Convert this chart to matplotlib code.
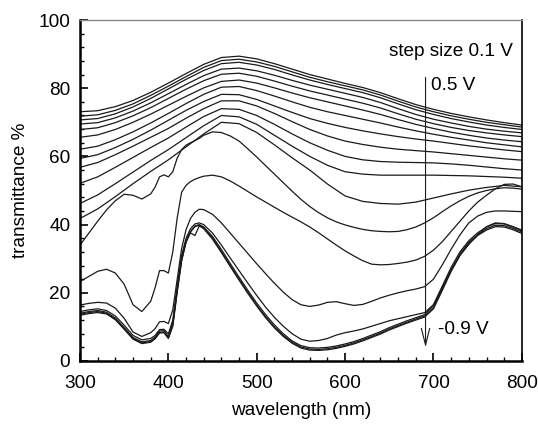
import matplotlib
matplotlib.use("Agg")
import matplotlib.pyplot as plt
from matplotlib.ticker import MultipleLocator

plt.rcParams['font.family'] = ['Liberation Sans', 'DejaVu Sans']

# ---------------- data ----------------
wl_upper = [300, 320, 340, 360, 380, 400, 420, 440, 460, 480, 500, 520, 540,
            560, 580, 600, 620, 640, 660, 680, 700, 720, 740, 760, 780, 800]

c01 = [73.1, 73.4, 74.6, 76.4, 78.8, 81.5, 84.3, 87.0, 89.0, 89.4, 88.6, 87.2, 85.6,
       84.0, 82.7, 81.4, 80.2, 78.7, 76.9, 75.2, 73.8, 72.6, 71.6, 70.7, 69.9, 69.2]
c02 = [71.8, 72.2, 73.5, 75.4, 77.9, 80.6, 83.4, 86.1, 88.1, 88.5, 87.7, 86.4, 84.8,
       83.2, 81.9, 80.7, 79.5, 78.0, 76.2, 74.5, 73.1, 71.9, 70.9, 70.0, 69.3, 68.6]
c03 = [70.7, 71.1, 72.5, 74.5, 77.0, 79.8, 82.6, 85.2, 87.2, 87.6, 86.8, 85.5, 83.9,
       82.4, 81.1, 79.9, 78.7, 77.2, 75.4, 73.7, 72.3, 71.1, 70.1, 69.2, 68.5, 67.9]
c04 = [69.5, 69.9, 71.3, 73.3, 75.7, 78.4, 81.1, 83.7, 85.6, 85.9, 85.1, 83.8, 82.3,
       80.9, 79.7, 78.5, 77.3, 75.8, 74.0, 72.3, 70.9, 69.8, 68.8, 68.0, 67.4, 66.9]
c05 = [67.9, 68.4, 69.9, 71.9, 74.3, 77.0, 79.7, 82.2, 84.1, 84.4, 83.5, 82.1, 80.6,
       79.2, 78.0, 76.8, 75.6, 74.2, 72.5, 70.9, 69.6, 68.5, 67.6, 66.9, 66.3, 65.8]
c06 = [65.6, 66.3, 67.9, 70.0, 72.4, 75.0, 77.6, 80.1, 82.0, 82.4, 81.5, 80.1, 78.6,
       77.2, 76.0, 74.8, 73.6, 72.3, 70.8, 69.4, 68.2, 67.1, 66.2, 65.4, 64.8, 64.3]
c07 = [62.1, 63.0, 64.9, 67.2, 69.8, 72.6, 75.5, 78.2, 80.3, 80.5, 79.3, 77.7, 76.0,
       74.4, 73.1, 72.0, 70.9, 69.8, 68.6, 67.5, 66.5, 65.6, 64.8, 64.0, 63.4, 62.8]
c08 = [59.4, 60.5, 62.6, 65.0, 67.7, 70.6, 73.5, 76.1, 78.2, 78.1, 76.7, 74.8, 72.9,
       71.1, 69.7, 68.5, 67.5, 66.6, 65.8, 65.1, 64.5, 63.8, 63.1, 62.5, 61.9, 61.4]
c09 = [56.8, 58.2, 60.5, 63.0, 65.6, 68.2, 71.2, 74.0, 76.3, 76.3, 74.8, 72.6, 70.2,
       67.9, 66.0, 64.5, 63.5, 62.7, 62.1, 61.7, 61.3, 60.8, 60.3, 59.8, 59.3, 58.9]
c10 = [52.1, 54.0, 56.8, 59.7, 62.6, 65.4, 68.6, 71.7, 74.0, 73.8, 72.0, 69.4, 66.6,
       64.0, 61.8, 60.0, 59.0, 58.5, 58.3, 58.2, 58.1, 57.8, 57.4, 56.9, 56.4, 56.0]
c11 = [46.2, 48.7, 52.0, 55.4, 58.8, 62.0, 65.5, 69.0, 72.0, 71.6, 69.4, 66.2, 63.0,
       60.0, 57.4, 55.5, 54.8, 54.5, 54.5, 54.5, 54.5, 54.4, 54.3, 54.1, 53.9, 53.6]
c12 = [41.8, 44.6, 48.2, 52.0, 55.6, 59.0, 62.8, 66.6, 70.0, 69.6, 67.0, 63.4, 59.6,
       56.0, 51.9, 48.4, 46.8, 46.2, 46.0, 46.6, 47.8, 49.0, 50.1, 50.9, 51.5, 51.1]

wl_lower = [300, 310, 320, 330, 340, 350, 360, 370, 380, 385, 390, 395, 400, 405,
            410, 415, 420, 425, 430, 435, 440, 450, 460, 470, 480, 490, 500, 510,
            520, 530, 540, 550, 560, 570, 580, 590, 600, 610, 620, 630, 640, 650,
            660, 670, 680, 690, 700, 710, 720, 730, 740, 750, 760, 770, 780, 790, 800]

c13 = [34.0, 37.5, 41.0, 44.3, 47.0, 48.9, 48.6, 47.5, 49.0, 51.0, 54.0, 54.6, 54.0, 55.5,
       59.5, 62.0, 63.3, 64.0, 64.6, 65.3, 66.2, 67.2, 67.0, 66.0, 64.5, 62.2, 59.8, 57.3,
       54.8, 52.3, 49.8, 47.4, 45.3, 43.5, 42.0, 40.8, 39.9, 39.2, 38.6, 38.2, 38.0, 37.9,
       38.0, 38.5, 39.3, 40.5, 42.0, 43.8, 45.5, 47.0, 48.3, 49.3, 50.0, 50.5, 50.8, 50.7, 50.4]
c14 = [23.3, 24.8, 26.3, 26.9, 25.8, 22.5, 16.5, 14.5, 17.5, 21.5, 26.5, 26.5, 25.8, 32.0,
       42.0, 49.5, 51.5, 52.6, 53.3, 53.8, 54.2, 54.5, 54.0, 52.8, 51.3, 49.7, 48.1, 46.6,
       45.1, 43.6, 42.2, 40.8, 39.3, 37.6, 35.8, 34.0, 32.3, 30.8, 29.4, 28.4, 28.2, 28.3,
       28.6, 29.0, 29.6, 30.7, 32.5, 35.0, 38.0, 41.0, 44.0, 46.6, 48.6, 50.5, 51.8, 51.9, 51.1]
c15 = [16.4, 16.9, 17.2, 17.0, 15.5, 12.5, 8.5, 7.2, 8.3, 9.5, 11.5, 11.6, 11.0, 15.0,
       24.0, 33.0, 38.5, 41.8, 43.6, 44.5, 44.4, 43.0, 40.5, 37.5, 34.5, 31.5, 28.5, 25.6,
       22.8, 20.2, 18.0, 16.5, 16.0, 16.4, 17.2, 17.4, 16.8, 16.3, 16.6, 17.5, 18.5, 19.3,
       20.0, 20.6, 21.1, 21.8, 24.0, 28.2, 32.8, 37.0, 40.5, 42.5, 43.6, 44.0, 44.0, 43.9, 43.8]
c16 = [14.5, 15.0, 15.3, 14.8, 13.2, 10.5, 7.5, 6.2, 6.6, 7.5, 9.2, 9.3, 8.0, 12.0,
       22.0, 31.0, 36.0, 38.8, 40.2, 40.5, 40.0, 37.5, 34.0, 30.2, 26.5, 22.8, 19.2, 15.8,
       12.8, 10.2, 8.0, 6.4, 5.8, 6.0, 6.6, 7.6, 8.3, 8.8, 9.4, 10.2, 11.0, 11.8,
       12.4, 13.0, 13.6, 14.2, 16.5, 21.5, 26.5, 31.0, 34.2, 37.0, 39.4, 40.5, 40.3, 39.4, 38.4]
c17 = [14.0, 14.5, 14.8, 14.3, 12.6, 9.8, 6.9, 5.6, 6.0, 7.0, 8.8, 8.9, 7.2, 11.0,
       21.0, 30.0, 35.2, 38.0, 39.6, 40.0, 39.3, 36.5, 32.7, 28.6, 24.6, 20.7, 17.0, 13.6,
       10.6, 8.0, 5.9, 4.5, 3.9, 3.8, 4.0, 4.4, 5.0, 5.7, 6.6, 7.6, 8.6, 9.8,
       10.8, 11.8, 12.7, 13.6, 16.5, 22.0, 27.5, 32.0, 35.3, 37.6, 39.3, 40.3, 40.2, 39.3, 38.2]
c18 = [13.7, 14.2, 14.5, 14.0, 12.3, 9.5, 6.6, 5.3, 5.7, 6.7, 8.4, 8.5, 6.8, 10.5,
       20.5, 29.6, 35.0, 37.8, 39.4, 39.8, 39.0, 36.0, 32.1, 28.0, 24.0, 20.1, 16.4, 13.0,
       10.0, 7.5, 5.5, 4.1, 3.5, 3.4, 3.6, 4.0, 4.6, 5.3, 6.2, 7.2, 8.2, 9.4,
       10.4, 11.4, 12.3, 13.2, 15.8, 21.2, 26.8, 31.4, 34.8, 37.1, 38.8, 39.8, 39.7, 38.9, 37.8]
c19 = [13.4, 13.9, 14.2, 13.8, 12.1, 9.3, 6.4, 5.1, 5.5, 6.5, 8.2, 8.3, 6.6, 10.2,
       20.2, 29.3, 34.8, 37.6, 36.8, 39.6, 38.8, 35.7, 31.8, 27.7, 23.7, 19.8, 16.1, 12.7,
       9.7, 7.2, 5.2, 3.8, 3.2, 3.1, 3.3, 3.7, 4.3, 5.0, 5.9, 6.9, 7.9, 9.1,
       10.1, 11.1, 12.0, 12.9, 15.3, 20.7, 26.3, 31.0, 34.4, 36.8, 38.4, 39.4, 39.3, 38.5, 37.4]

upper_curves = [c01, c02, c03, c04, c05, c06, c07, c08, c09, c10, c11, c12]
lower_curves = [c13, c14, c15, c16, c17, c18, c19]

x_ticks = [300, 400, 500, 600, 700, 800]
y_ticks = [0, 20, 40, 60, 80, 100]

# ---------------- figure ----------------
fs = 13.7
fig = plt.figure(figsize=(5.38, 4.24), dpi=100)
ax = fig.add_axes([0.1487, 0.1486, 0.8213, 0.8042])

lc = '#1a1a1a'
for c in upper_curves:
    ax.plot(wl_upper, c, color=lc, lw=0.9)
for c in lower_curves:
    ax.plot(wl_lower, c, color=lc, lw=0.9)

ax.set_xlim(300, 800)
ax.set_ylim(0, 100)
ax.set_xticks(x_ticks)
ax.set_yticks(y_ticks)
ax.xaxis.set_minor_locator(MultipleLocator(20))
ax.yaxis.set_minor_locator(MultipleLocator(4))
ax.tick_params(axis='both', which='major', direction='in', length=6, width=1.2,
               labelsize=fs, top=False, right=False)
ax.tick_params(axis='x', which='major', pad=10)
ax.tick_params(axis='y', which='major', pad=7)
ax.tick_params(axis='both', which='minor', direction='in', length=3, width=1.0,
               top=False, right=False)
ax.spines['left'].set_linewidth(1.8)
ax.spines['bottom'].set_linewidth(1.8)
ax.spines['right'].set_linewidth(1.2)
ax.spines['top'].set_linewidth(1.0)
ax.spines['top'].set_color('#888888')

ax.set_xlabel('wavelength (nm)', fontsize=fs, labelpad=7)
ax.set_ylabel('transmittance %', fontsize=fs, labelpad=7)

# annotations
ax.text(790, 90.7, 'step size 0.1 V', fontsize=fs, ha='right', va='center')
ax.text(697, 80.9, '0.5 V', fontsize=fs, ha='left', va='center')
ax.text(705, 9.1, '-0.9 V', fontsize=fs, ha='left', va='center')
ax.annotate('', xy=(691, 3.2), xytext=(691, 84),
            arrowprops=dict(arrowstyle='->,head_length=1.2,head_width=0.3',
                            color=lc, lw=0.8))

fig.savefig('out.png', dpi=100)
